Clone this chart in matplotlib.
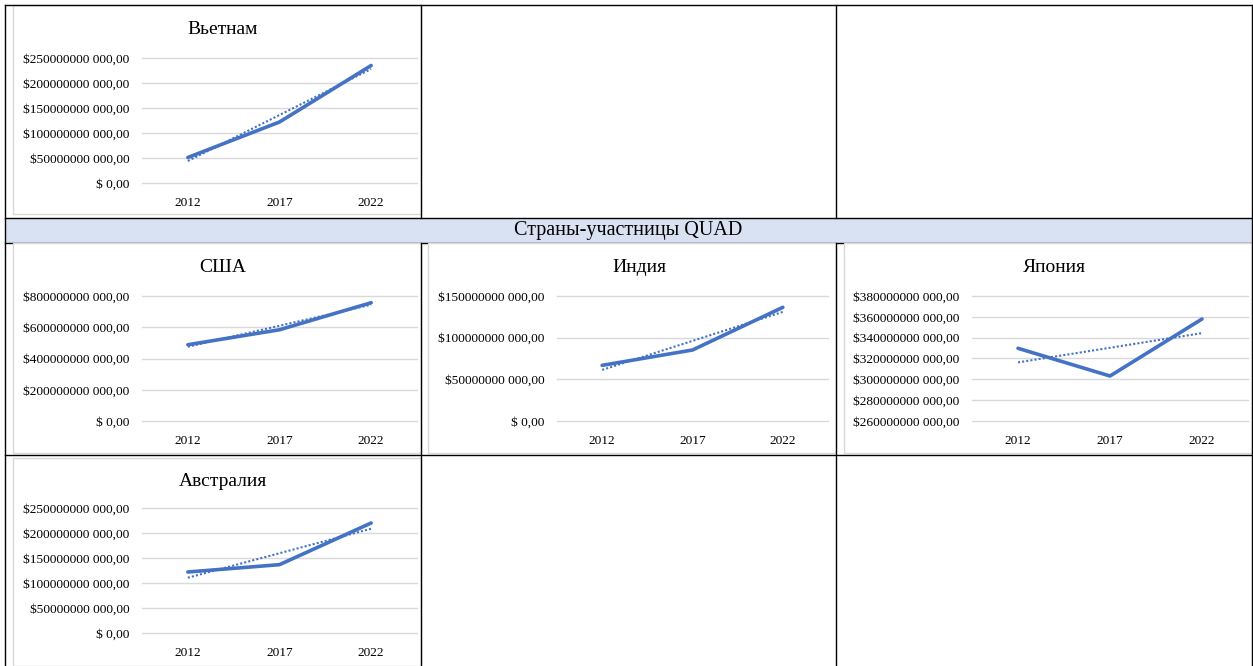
import numpy as np
import matplotlib
matplotlib.use('Agg')
import matplotlib.pyplot as plt
from matplotlib.patches import Rectangle
from matplotlib.ticker import FuncFormatter, MultipleLocator

plt.rcParams['font.family'] = ['Liberation Serif', 'DejaVu Serif']

# data, billions of US dollars
years = ['2012', '2017', '2022']
vietnam = [51, 122, 235]
usa = [488, 584, 757]
india = [66.8, 85.2, 136.4]
japan = [329.8, 303.2, 357.9]
australia = [122, 136.7, 220]

header_text = 'Страны-участницы QUAD'

W, H = 1253, 666
BLUE = '#4472C4'
GRID = '#D9D9D9'

fig = plt.figure(figsize=(W / 100, H / 100), dpi=100)
bg = fig.add_axes([0, 0, 1, 1])
bg.set_xlim(0, W)
bg.set_ylim(H, 0)
bg.axis('off')

# header band
bg.add_patch(Rectangle((5, 218), 1247, 25, facecolor='#D9E2F3', edgecolor='none', zorder=1))
bg.plot([5, 1252], [243, 243], color='black', lw=1, zorder=2)
bg.text(628, 231, header_text, ha='center', va='center', fontsize=14.5, zorder=5)

# chart areas (x0, y0, x1, y1)
chart_boxes = [(13, 5, 421, 214), (13, 243, 421, 453), (428, 243, 836, 453),
               (844, 243, 1252, 453), (13, 458, 421, 666)]
for x0, y0, x1, y1 in chart_boxes:
    bg.add_patch(Rectangle((x0, y0), x1 - x0, y1 - y0, facecolor='white',
                           edgecolor=GRID, lw=1, zorder=3))

# table borders
for xs, ys in [([5, 1252], [5, 5]), ([5, 5], [5, 666]), ([1252, 1252], [5, 666]),
               ([5, 1252], [218, 218]), ([5, 1252], [455, 455]),
               ([421, 421], [5, 218]), ([836, 836], [5, 218]),
               ([421, 421], [243, 666]), ([836, 836], [243, 666])]:
    bg.plot(xs, ys, color='black', lw=1, zorder=4)


def money(v, pos):
    if abs(v) < 1e-9:
        return '$ 0,00'
    d = int(round(v * 1e9))
    return f'${d // 1000} {d % 1000:03d},00'


def panel(title, vals, box, ylim, step, title_xy):
    x0, y0, x1, y1 = box
    ax = fig.add_axes([x0 / W, 1 - y1 / H, (x1 - x0) / W, (y1 - y0) / H])
    ax.set_facecolor('none')
    xi = np.arange(len(years))
    ax.plot(xi, vals, color=BLUE, lw=2.6, solid_capstyle='round', solid_joinstyle='round', zorder=3)
    k, b = np.polyfit(xi, vals, 1)
    ax.plot(xi, k * xi + b, color=BLUE, lw=1.5, linestyle=(0, (1, 1)), zorder=2)
    ax.set_xlim(-0.5, len(years) - 0.5)
    ax.set_ylim(*ylim)
    ax.yaxis.set_major_locator(MultipleLocator(step))
    ax.yaxis.set_major_formatter(FuncFormatter(money))
    ax.set_xticks(xi)
    ax.set_xticklabels(years)
    ax.grid(axis='y', color=GRID, lw=1)
    for gl in ax.get_ygridlines():
        gl.set_clip_on(False)
    ax.set_axisbelow(True)
    for s in ax.spines.values():
        s.set_visible(False)
    ax.tick_params(length=0, labelsize=9.6, colors='#000000')
    ax.tick_params(axis='y', pad=9)
    ax.tick_params(axis='x', pad=10)
    bg.text(title_xy[0], title_xy[1], title, ha='center', va='center', fontsize=14, zorder=5)
    return ax


panel('Вьетнам', vietnam, (142, 58, 417, 183), (0, 250), 50, (223, 30))
panel('США', usa, (142, 296, 417, 421), (0, 800), 200, (223, 268))
panel('Индия', india, (557, 296, 828, 421), (0, 150), 50, (639, 268))
panel('Япония', japan, (972, 296, 1248, 421), (260, 380), 20, (1054, 268))
panel('Австралия', australia, (142, 508, 417, 633), (0, 250), 50, (223, 481))

fig.savefig('out.png', dpi=100)
